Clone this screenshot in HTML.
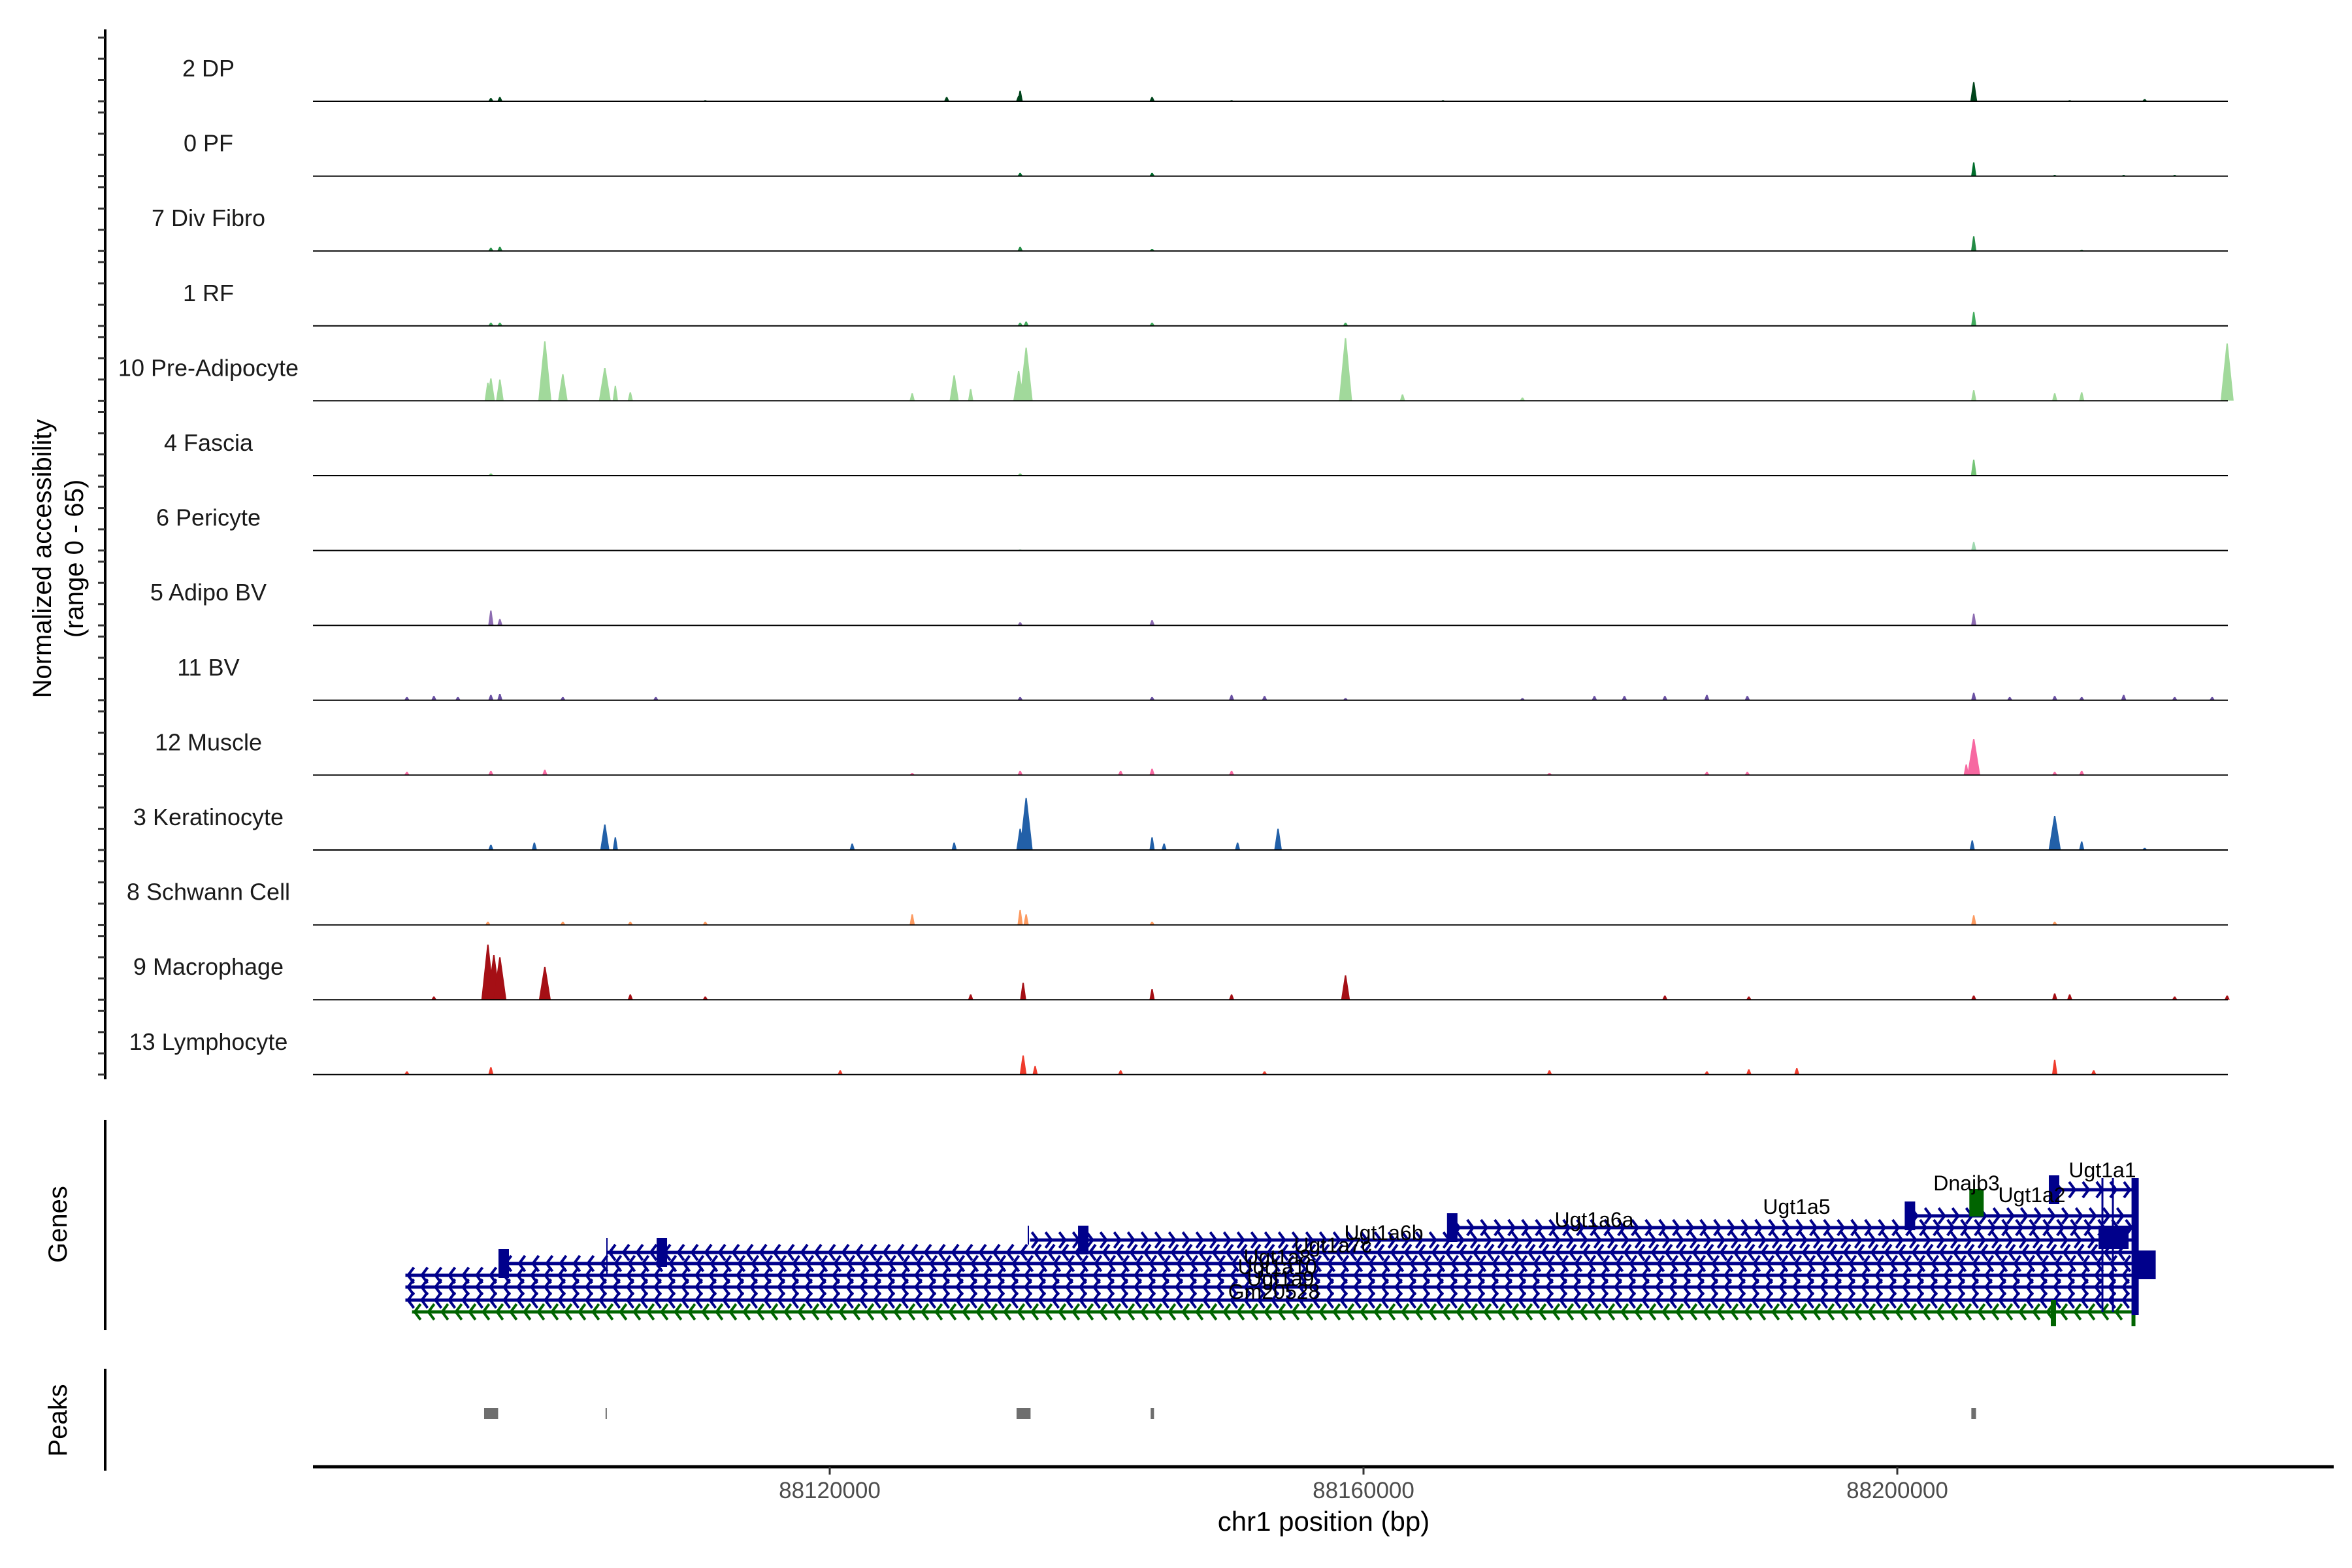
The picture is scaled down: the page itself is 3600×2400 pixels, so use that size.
<!DOCTYPE html>
<html><head><meta charset="utf-8">
<style>
html,body{margin:0;padding:0;background:#fff;}
svg{display:block;font-family:"Liberation Sans",sans-serif;}
</style></head>
<body>
<svg id="chart" xmlns="http://www.w3.org/2000/svg" width="3600" height="2400" viewBox="0 0 3600 2400">
<rect width="3600" height="2400" fill="#fff"/>
<g id="tracks"></g>
<g id="genes"></g>
<g id="peaks"></g>
<g id="axes"></g>
<text transform="translate(78,855) rotate(-90)" text-anchor="middle" font-size="40" fill="#000">Normalized accessibility</text>
<text transform="translate(127,855) rotate(-90)" text-anchor="middle" font-size="40" fill="#000">(range 0 - 65)</text>
<text transform="translate(102,1874) rotate(-90)" text-anchor="middle" font-size="40" fill="#000">Genes</text>
<text transform="translate(102,2174) rotate(-90)" text-anchor="middle" font-size="40" fill="#000">Peaks</text>
<text x="2026" y="2343" text-anchor="middle" font-size="42" fill="#000">chr1 position (bp)</text>
</svg>
<script>
// ---- data ----
const trackNames = ["2 DP","0 PF","7 Div Fibro","1 RF","10 Pre-Adipocyte","4 Fascia","6 Pericyte","5 Adipo BV","11 BV","12 Muscle","3 Keratinocyte","8 Schwann Cell","9 Macrophage","13 Lymphocyte"];
const trackColors = ["#00441b","#006d2c","#238b45","#41ab5d","#a1d99b","#74c476","#9fd8b0","#8c6bb1","#6a51a3","#f768a1","#2260a8","#fc9a60","#a50f15","#ef3b2c"];
const pos0 = [88094607,88095281,88110674,88128764,88134157,88134270,88144157,88150113,88165955,88205731,88212922,88218540];
const val0 = [3,4,1,4,5,10,4,1,1,18,1,2];
const pos1 = [88134270,88144157,88205731,88211798,88216966,88220787];
const val1 = [3,3,13,1,1,1];
const pos2 = [88094607,88095281,88134270,88144157,88205731,88213820];
const val2 = [3,4,4,2,14,1];
const pos3 = [88094607,88095281,88134270,88134719,88144157,88158652,88205731];
const val3 = [3,3,3,4,3,3,13];
const pos4 = [88094382,88094607,88095281,88098651,88099999,88103146,88103933,88105056,88126180,88129326,88130562,88134157,88134719,88158652,88162922,88171910,88205731,88211798,88213820,88224719];
const val4 = [17,21,20,56,25,31,14,8,7,24,11,28,50,59,6,3,10,7,8,54];
const pos5 = [88094607,88134270,88205731];
const val5 = [2,2,15];
const pos6 = [88134270,88205731];
const val6 = [1,8];
const pos7 = [88094607,88095281,88134270,88144157,88205731];
const val7 = [14,6,3,5,11];
const pos8 = [88088314,88090337,88092135,88094607,88095281,88099999,88106966,88134270,88144157,88150113,88152584,88158652,88171910,88177303,88179551,88182585,88185730,88188764,88205731,88208427,88211798,88213820,88216966,88220787,88223596];
const val8 = [3,4,3,5,6,3,3,3,3,5,4,2,2,4,4,4,5,4,7,3,4,3,5,3,3];
const pos9 = [88088314,88094607,88098651,88126180,88134270,88141798,88144157,88150113,88173933,88185730,88188764,88205169,88205731,88211798,88213820];
const val9 = [3,4,5,2,4,4,6,4,2,3,3,10,34,3,4];
const pos10 = [88094607,88097865,88103146,88103933,88121685,88129326,88134270,88134719,88144157,88145056,88150562,88153596,88205618,88211798,88213820,88218540];
const val10 = [5,7,24,12,6,7,20,49,12,6,7,20,9,32,8,2];
const pos11 = [88094382,88099999,88105056,88110674,88126180,88134270,88134719,88144157,88205731,88211798];
const val11 = [3,3,3,3,10,14,10,3,9,3];
const pos12 = [88090337,88094382,88094831,88095281,88098651,88105056,88110674,88130562,88134494,88144157,88150113,88158652,88182585,88188877,88205731,88211798,88212922,88220787,88224719];
const val12 = [3,52,42,40,31,5,3,5,16,10,5,23,4,3,4,6,5,3,4];
const pos13 = [88088314,88094607,88120786,88134494,88135393,88141798,88152584,88173933,88185730,88188877,88192472,88211798,88214719];
const val13 = [3,7,4,18,8,4,3,4,3,5,6,14,4];
const trackPos = [pos0,pos1,pos2,pos3,pos4,pos5,pos6,pos7,pos8,pos9,pos10,pos11,pos12,pos13];
const trackVals = [val0,val1,val2,val3,val4,val5,val6,val7,val8,val9,val10,val11,val12,val13];
const xTicks = [88120000,88160000,88200000];
const peakStarts = [88094100,88103200,88134000,88144050,88205550];
const peakEnds = [88095150,88103250,88135050,88144300,88205900];
const geneNames = ["Ugt1a1","Ugt1a5","Ugt1a6b","Ugt1a7c","Ugt1a6a","Ugt1a10","Ugt1a9","Ugt1a8","Gm20528","Ugt1a2"];
const geneStarts = [88211700,88200900,88166600,88135000,88103300,88095500,88088200,88088200,88088200,88088200];
const geneEnds = [88217800,88217800,88217800,88217800,88217800,88217800,88217800,88217800,88217800,88217800];
const geneExon = [88211700,88200900,88166600,88138950,88107370,88095520,0,0,0,0];

// ---- scales ----
const NS="http://www.w3.org/2000/svg";
function X(bp){return 1270+(bp-88120000)*0.020425;}
const TRACK_TOP=155, TRACK_STEP=114.6, UNIT=1.625;
function base(i){return TRACK_TOP+i*TRACK_STEP;}
function mk(tag,attrs,parent){const e=document.createElementNS(NS,tag);for(const k in attrs)e.setAttribute(k,attrs[k]);parent.appendChild(e);return e;}

const gT=document.getElementById('tracks');
trackNames.forEach((nm,i)=>{
  const b=base(i);
  const g=mk('g',{},gT);
  
  
  const lab=mk('text',{x:319,y:b-38,'text-anchor':'middle','font-size':36,fill:'#1a1a1a'},g);
  lab.textContent=nm;
  
  
  const ps=trackPos[i], vs=trackVals[i];
  ps.forEach((p,j)=>{
    const x=X(p), h=vs[j]*UNIT, w=Math.max(4,Math.min(10,h*0.18));
    const path=mk('path',{d:`M${x-w},${b} L${x-1},${b-h} L${x+1},${b-h} L${x+w},${b} Z`,fill:trackColors[i]},g);
    
    
  });
  const ln=mk('line',{x1:479,x2:3410,y1:b,y2:b,stroke:'#000','stroke-width':2},g);
  
  
});

// ---- axes ----
const gA=document.getElementById('axes');
let a=mk('line',{x1:161,x2:161,y1:45,y2:1652,stroke:'#000','stroke-width':4},gA);


for(let i=0;i<trackNames.length;i++){
  [0,20,40,60].forEach(v=>{
    const y=base(i)-v*UNIT;
    const t=mk('line',{x1:150,x2:161,y1:y,y2:y,stroke:'#333','stroke-width':3},gA);
    
    
  });
}
a=mk('line',{x1:161,x2:161,y1:1714,y2:2036,stroke:'#000','stroke-width':4},gA);


a=mk('line',{x1:161,x2:161,y1:2095,y2:2251,stroke:'#000','stroke-width':4},gA);


a=mk('line',{x1:479,x2:3572,y1:2245,y2:2245,stroke:'#000','stroke-width':5},gA);


xTicks.forEach(v=>{
  const x=X(v);
  const t=mk('line',{x1:x,x2:x,y1:2245,y2:2257,stroke:'#333','stroke-width':3},gA);
  
  
  const l=mk('text',{x:x,y:2293,'text-anchor':'middle','font-size':35,fill:'#4d4d4d'},gA);
  l.textContent=String(v);
  
  
});

// ---- peaks ----
const gP=document.getElementById('peaks');
peakStarts.forEach((s,i)=>{
  const x1=X(s), x2=X(peakEnds[i]);
  const r=mk('rect',{x:x1,y:2155,width:Math.max(2,x2-x1),height:17,fill:'#6e6e6e'},gP);
  
  
});

// ---- genes ----
const gG=document.getElementById('genes');
const rowY=[1821,1861,1879,1898,1917,1934,1952,1970,1990];
const BLUE='#00008b', GREEN='#006400';
function chevRow(x1,x2,y,dir,color,g){
  let d='';
  for(let x=x1+8;x<x2-4;x+=21){
    if(dir>0) d+=`M${x-5},${y-12} L${x+4},${y} L${x-5},${y+12} `;
    else d+=`M${x+5},${y-12} L${x-4},${y} L${x+5},${y+12} `;
  }
  const p=mk('path',{d:d,stroke:color,'stroke-width':4,fill:'none'},g);
  
  
}
geneNames.forEach((nm,i)=>{
  if(i>=rowY.length) return;
  const y=rowY[i], x1=X(geneStarts[i]), x2=X(geneEnds[i]);
  const g=mk('g',{},gG);
  
  
  const l=mk('line',{x1:x1,x2:x2,y1:y,y2:y,stroke:BLUE,'stroke-width':5},g);
  
  
  chevRow(x1,x2,y,i<4?1:-1,BLUE,g);
  if(geneExon[i]){
    const ex=X(geneExon[i]);
    const r=mk('rect',{x:ex-7,y:y-22,width:16,height:44,fill:BLUE},g);
    
    
  }
});
// green gene (long minus strand)
{
  const g=mk('g',{},gG);
  
  
  const x1=X(88088700), x2=X(88217700), y=2008;
  const l=mk('line',{x1:x1,x2:x2,y1:y,y2:y,stroke:GREEN,'stroke-width':5},g);
  
  
  chevRow(x1,x2,y,-1,GREEN,g);
  let r=mk('rect',{x:X(88211700)-4,y:1990,width:8,height:40,fill:GREEN},g);
  
  
  r=mk('rect',{x:X(88217700)-3,y:1990,width:6,height:40,fill:GREEN},g);
  
  
  r=mk('rect',{x:X(88205400),y:1820,width:22,height:42,fill:GREEN},g);
  
  
}
// shared exons / vertical bars
{
  let r=mk('rect',{x:X(88217800)-5,y:1803,width:11,height:210,fill:BLUE},gG);
  
  
  r=mk('rect',{x:X(88217800),y:1914,width:32,height:44,fill:BLUE},gG);
  
  
  r=mk('rect',{x:3212,y:1876,width:46,height:36,fill:BLUE},gG);
  
  
  [3218,3234].forEach(x=>{
    const v=mk('line',{x1:x,x2:x,y1:1803,y2:2008,stroke:BLUE,'stroke-width':3},gG);
    
    
  });
  [[929,1895,1954],[1574,1876,1905]].forEach(s=>{
    const v=mk('line',{x1:s[0],x2:s[0],y1:s[1],y2:s[2],stroke:BLUE,'stroke-width':2},gG);
    
    
  });
}
// gene labels
const labelText=["Ugt1a1","Ugt1a2","Dnajb3","Ugt1a5","Ugt1a6a","Ugt1a6b","Ugt1a7c","Ugt1a8","Ugt1a10","Ugt1a9","Gm20528"];
const labelX=[3218,3110,3010,2750,2440,2118,2040,1955,1955,1960,1950];
const labelY=[1802,1840,1822,1858,1878,1898,1917,1935,1950,1968,1988];
labelText.forEach((t,i)=>{
  const l=mk('text',{x:labelX[i],y:labelY[i],'text-anchor':'middle','font-size':32,fill:'#000'},gG);
  l.textContent=t;
  
  
});
</script>
</body></html>
